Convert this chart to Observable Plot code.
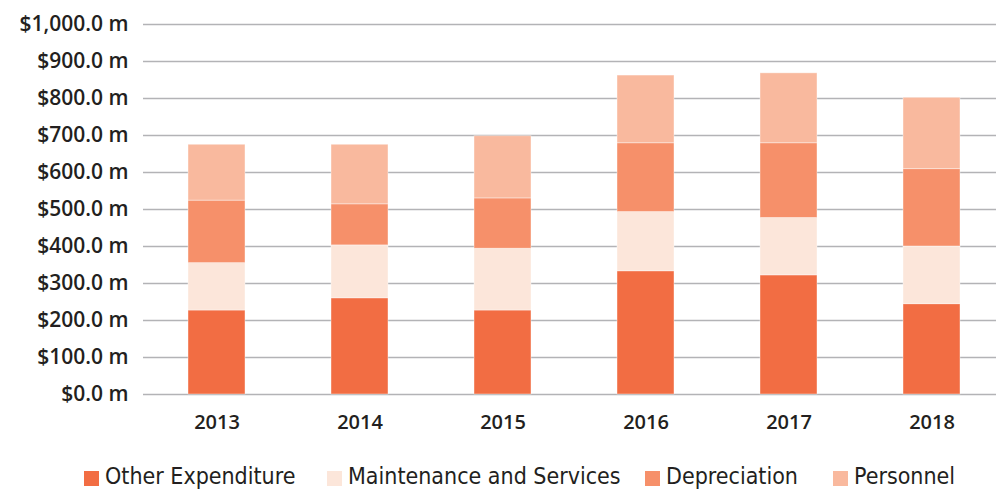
<!DOCTYPE html>
<html><head><meta charset="utf-8">
<script src="https://cdn.jsdelivr.net/npm/d3@7"></script>
<script src="https://cdn.jsdelivr.net/npm/@observablehq/plot@0.6"></script>
<style>
body{margin:0;background:#fff;font-family:"Open Sans",sans-serif;}
#wrap{position:relative;width:996px;height:491px;}
#legend{position:absolute;top:463px;left:0;width:996px;height:28px;font-family:"Liberation Sans Narrow","DejaVu Sans Condensed",sans-serif;font-size:23px;color:#231f20;}
.item{position:absolute;top:0;display:flex;align-items:center;white-space:nowrap;}
.sw{width:15px;height:15px;margin-right:6px;margin-top:4px;}
</style></head><body>
<div id="wrap"><div id="chart"></div><div id="legend"></div></div>
<script>
const years = ["2013","2014","2015","2016","2017","2018"];
const seriesNames = ["Other Expenditure","Maintenance and Services","Depreciation","Personnel"];
const otherExpenditure = [227, 260, 227, 333, 322, 244];
const maintenance = [128, 143, 167, 160, 155, 156];
const depreciation = [169, 111, 136, 186, 202, 209];
const personnel = [151, 161, 168, 183, 189, 193];
const colors = ["#F26D43","#FCE6DA","#F6906A","#F9B99E"];
const yTicks = [0,100,200,300,400,500,600,700,800,900,1000];

const seriesValues = [otherExpenditure, maintenance, depreciation, personnel];
const data = [];
seriesNames.forEach((s, i) => years.forEach((y, j) => data.push({year: y, series: s, value: seriesValues[i][j]})));

const fmt = d => "$" + d3.format(",.1f")(d) + " m";

const chart = Plot.plot({
  width: 996, height: 450,
  marginLeft: 143, marginRight: 0, marginTop: 24, marginBottom: 56,
  style: {fontFamily: "Open Sans", fontSize: "17px", color: "#231f20", fontWeight: 600},
  x: {domain: years, range: [143, 1005], paddingInner: 0.603, paddingOuter: 0.303, label: null},
  y: {domain: [0, 1000], ticks: yTicks, label: null},
  color: {domain: seriesNames, range: colors},
  marks: [
    Plot.gridY(yTicks, {stroke: "#b3b3b6", strokeOpacity: 1, strokeWidth: 1.5}),
    Plot.barY(data, {x: "year", y: "value", fill: "series", order: seriesNames, stroke: "#fff", strokeOpacity: 0.5, strokeWidth: 0.8}),
    Plot.axisY(yTicks, {tickSize: 0, tickPadding: 15, tickFormat: fmt, fontSize: 21, fontWeight: 600, style: {letterSpacing: "0.7px"}}),
    Plot.axisX({tickSize: 0, tickPadding: 20, fontSize: 20, fontWeight: 600, style: {letterSpacing: "0.5px"}})
  ]
});
document.getElementById("chart").appendChild(chart);

const legendPos = [84, 327, 645, 833];
const leg = document.getElementById("legend");
seriesNames.forEach((s, i) => {
  const it = document.createElement("div");
  it.className = "item";
  it.style.left = legendPos[i] + "px";
  it.innerHTML = `<span class="sw" style="background:${colors[i]}"></span><span>${s}</span>`;
  leg.appendChild(it);
});
</script>
</body></html>
